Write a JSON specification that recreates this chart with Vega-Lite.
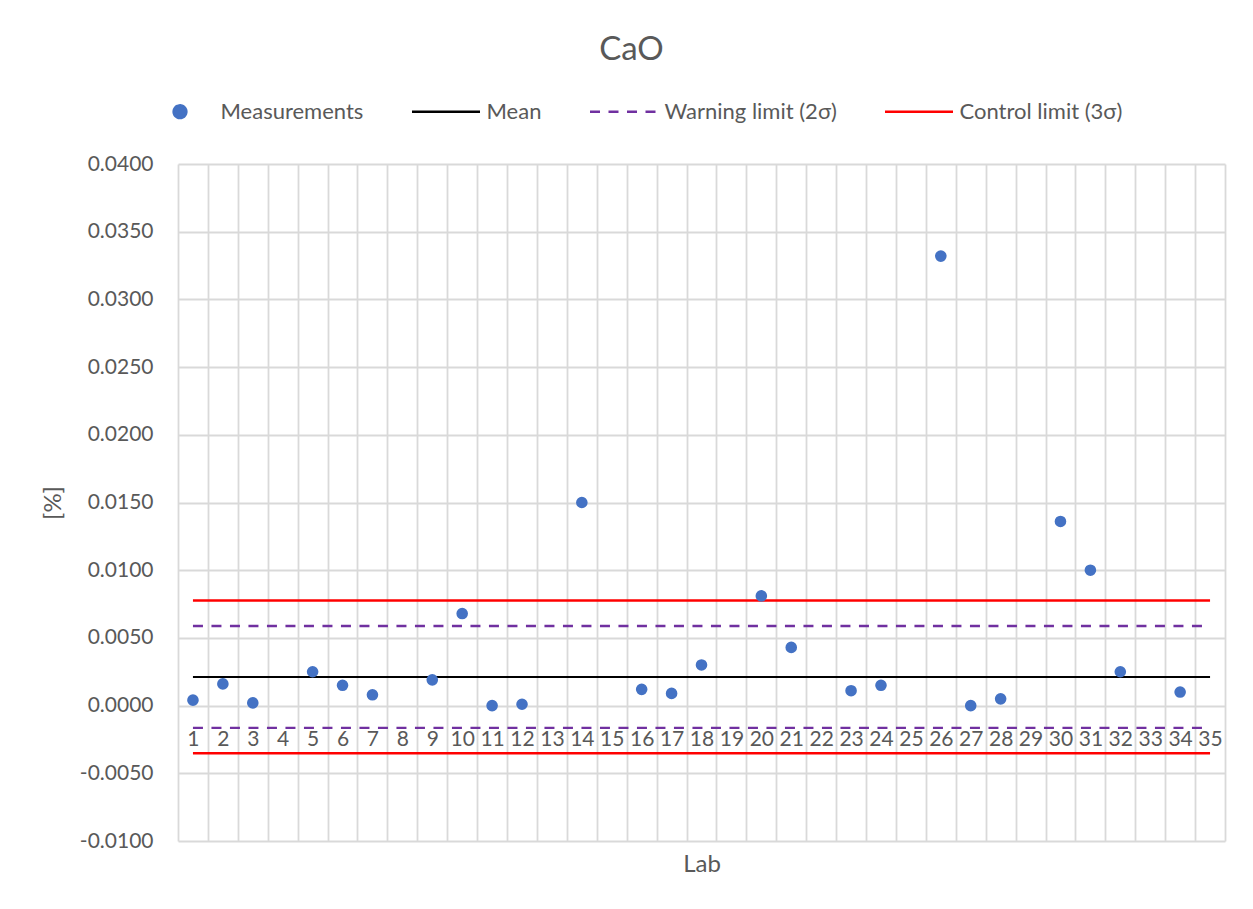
{
  "$schema": "https://vega.github.io/schema/vega-lite/v6.json",
  "autosize": {"type": "none"},
  "width": 1047,
  "height": 677,
  "padding": {"left": 178, "top": 164, "right": 28, "bottom": 68},
  "background": "#ffffff",
  "title": {"text": "CaO", "fontSize": 33, "font": "Lato", "fontWeight": "normal", "color": "#595959", "anchor": "middle", "baseline": "alphabetic", "offset": -17, "dx": -70},
  "config": {
    "font": "Lato",
    "view": {"stroke": null},
    "axis": {"labelFont": "Lato", "titleFont": "Lato", "labelColor": "#595959", "titleColor": "#595959", "labelFontSize": 21, "titleFontSize": 24, "titleFontWeight": "normal", "gridColor": "#D9D9D9", "gridWidth": 1.8, "domain": false, "ticks": false},
    "legend": {"labelFont": "Lato", "labelFontSize": 22, "labelColor": "#595959", "labelLimit": 400}
  },
  "data": {
    "values": [
      {"lab": 1, "value": 0.0004, "series": "Measurements", "line": "m"},
      {"lab": 2, "value": 0.0016, "series": "Measurements", "line": "m"},
      {"lab": 3, "value": 0.0002, "series": "Measurements", "line": "m"},
      {"lab": 5, "value": 0.0025, "series": "Measurements", "line": "m"},
      {"lab": 6, "value": 0.0015, "series": "Measurements", "line": "m"},
      {"lab": 7, "value": 0.0008, "series": "Measurements", "line": "m"},
      {"lab": 9, "value": 0.0019, "series": "Measurements", "line": "m"},
      {"lab": 10, "value": 0.0068, "series": "Measurements", "line": "m"},
      {"lab": 11, "value": 0.0000, "series": "Measurements", "line": "m"},
      {"lab": 12, "value": 0.0001, "series": "Measurements", "line": "m"},
      {"lab": 14, "value": 0.0150, "series": "Measurements", "line": "m"},
      {"lab": 16, "value": 0.0012, "series": "Measurements", "line": "m"},
      {"lab": 17, "value": 0.0009, "series": "Measurements", "line": "m"},
      {"lab": 18, "value": 0.0030, "series": "Measurements", "line": "m"},
      {"lab": 20, "value": 0.0081, "series": "Measurements", "line": "m"},
      {"lab": 21, "value": 0.0043, "series": "Measurements", "line": "m"},
      {"lab": 23, "value": 0.0011, "series": "Measurements", "line": "m"},
      {"lab": 24, "value": 0.0015, "series": "Measurements", "line": "m"},
      {"lab": 26, "value": 0.0332, "series": "Measurements", "line": "m"},
      {"lab": 27, "value": 0.0000, "series": "Measurements", "line": "m"},
      {"lab": 28, "value": 0.0005, "series": "Measurements", "line": "m"},
      {"lab": 30, "value": 0.0136, "series": "Measurements", "line": "m"},
      {"lab": 31, "value": 0.0100, "series": "Measurements", "line": "m"},
      {"lab": 32, "value": 0.0025, "series": "Measurements", "line": "m"},
      {"lab": 34, "value": 0.0010, "series": "Measurements", "line": "m"},
      {"lab": 1, "value": 0.00212, "series": "Mean", "line": "mean"},
      {"lab": 35, "value": 0.00212, "series": "Mean", "line": "mean"},
      {"lab": 1, "value": 0.00588, "series": "Warning limit (2σ)", "line": "wu"},
      {"lab": 35, "value": 0.00588, "series": "Warning limit (2σ)", "line": "wu"},
      {"lab": 1, "value": -0.00164, "series": "Warning limit (2σ)", "line": "wl"},
      {"lab": 35, "value": -0.00164, "series": "Warning limit (2σ)", "line": "wl"},
      {"lab": 1, "value": 0.00776, "series": "Control limit (3σ)", "line": "cu"},
      {"lab": 35, "value": 0.00776, "series": "Control limit (3σ)", "line": "cu"},
      {"lab": 1, "value": -0.00352, "series": "Control limit (3σ)", "line": "cl"},
      {"lab": 35, "value": -0.00352, "series": "Control limit (3σ)", "line": "cl"}
    ]
  },
  "encoding": {
    "x": {
      "field": "lab", "type": "ordinal",
      "scale": {"type": "band", "paddingInner": 0, "paddingOuter": 0, "domain": [1,2,3,4,5,6,7,8,9,10,11,12,13,14,15,16,17,18,19,20,21,22,23,24,25,26,27,28,29,30,31,32,33,34,35]},
      "axis": {"title": "Lab", "tickBand": "extent", "grid": true, "labelAngle": 0, "labelPadding": 22.5, "offset": -135.4, "titleY": 166, "titleBaseline": "alphabetic", "labelOverlap": false}
    },
    "y": {
      "field": "value", "type": "quantitative",
      "scale": {"domain": [-0.01, 0.04], "nice": false, "zero": false},
      "axis": {"title": "[%]", "values": [-0.01, -0.005, 0, 0.005, 0.01, 0.015, 0.02, 0.025, 0.03, 0.035, 0.04], "labelExpr": "replace(format(datum.value, '.4f'), '\u2212', '-')", "labelPadding": 25, "titlePadding": 14, "grid": true}
    },
    "color": {
      "field": "series", "type": "nominal",
      "scale": {"domain": ["Measurements", "Mean", "Warning limit (2σ)", "Control limit (3σ)"], "range": ["#4472C4", "#000000", "#7030A0", "#FF0000"]},
      "legend": {
        "title": null, "orient": "none", "direction": "horizontal", "legendX": -33.5, "legendY": -88,
        "columnPadding": 43, "labelOffset": 5, "symbolSize": 4624, "symbolStrokeWidth": 2.3, "padding": 0,
        "encode": {
          "symbols": {
            "update": {
              "shape": {"signal": "datum.value === 'Measurements' ? 'M -0.19 0 A 0.19 0.19 0 1 0 0.19 0 A 0.19 0.19 0 1 0 -0.19 0 Z' : 'stroke'"},
              "fill": {"signal": "datum.value === 'Measurements' ? '#4472C4' : 'transparent'"},
              "stroke": {"signal": "datum.value === 'Measurements' ? 'transparent' : datum.value === 'Mean' ? '#000000' : datum.value === 'Control limit (3σ)' ? '#FF0000' : '#7030A0'"},
              "strokeDash": {"signal": "datum.value === 'Warning limit (2σ)' ? [10, 8.5] : [1, 0]"},
              "opacity": {"value": 1}
            }
          }
        }
      }
    }
  },
  "layer": [
    {
      "transform": [{"filter": "datum.series === 'Control limit (3σ)'"}],
      "mark": {"type": "line", "strokeWidth": 2.5},
      "encoding": {"detail": {"field": "line"}}
    },
    {
      "transform": [{"filter": "datum.series === 'Warning limit (2σ)'"}],
      "mark": {"type": "line", "strokeWidth": 2.3, "strokeDash": [10, 8.5]},
      "encoding": {"detail": {"field": "line"}}
    },
    {
      "transform": [{"filter": "datum.series === 'Mean'"}],
      "mark": {"type": "line", "strokeWidth": 2},
      "encoding": {"detail": {"field": "line"}}
    },
    {
      "transform": [{"filter": "datum.series === 'Measurements'"}],
      "mark": {"type": "point", "filled": true, "opacity": 1, "size": 135, "shape": "circle"}
    }
  ]
}
